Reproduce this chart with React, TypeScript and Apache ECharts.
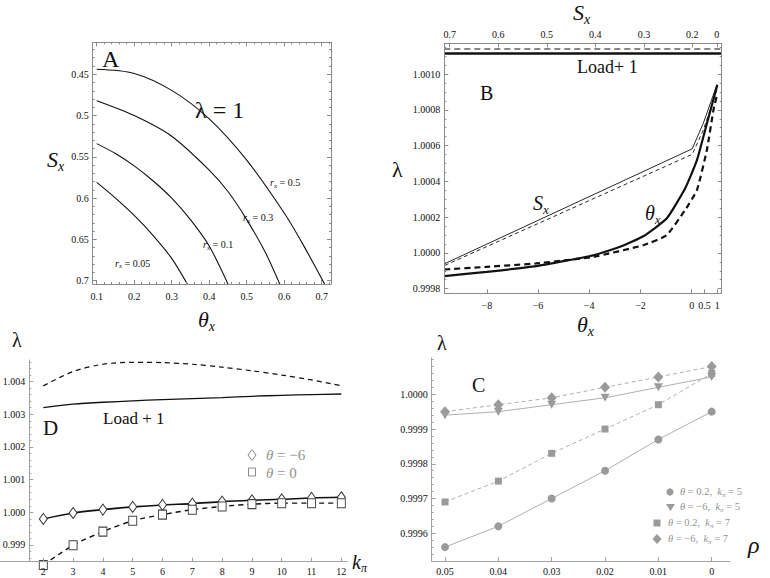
import React, { useEffect, useRef } from "react";
import * as echarts from "echarts";

const SERIF = "'Liberation Serif', 'Times New Roman', Times, serif";
const FRAME = "#8a8a8a";
const INK = "#111111";
const GREY = "#9a9a9a";
const GREY_TXT = "#939393";

// ---------------- Panel A : S_x vs theta_x, lambda = 1 ----------------
const aThetaTicks = [0.1, 0.2, 0.3, 0.4, 0.5, 0.6, 0.7];
const aSTicks = [0.45, 0.5, 0.55, 0.6, 0.65, 0.7];
const aRx05 = [[0.1, 0.444], [0.2, 0.449], [0.3, 0.4695], [0.4, 0.504], [0.5, 0.554], [0.6, 0.618], [0.65, 0.656], [0.71, 0.706]];
const aRx03 = [[0.1, 0.482], [0.2, 0.5], [0.3, 0.525], [0.4, 0.566], [0.45, 0.592], [0.5, 0.626], [0.55, 0.666], [0.59, 0.706]];
const aRx01 = [[0.1, 0.534], [0.15, 0.546], [0.2, 0.561], [0.25, 0.579], [0.3, 0.6], [0.35, 0.626], [0.4, 0.658], [0.452, 0.706]];
const aRx005 = [[0.1, 0.581], [0.15, 0.6], [0.2, 0.621], [0.25, 0.645], [0.3, 0.673], [0.344, 0.706]];

// ---------------- Panel B : lambda vs theta_x (bottom) and S_x (top) ----------------
const bThetaTicks = [-8, -6, -4, -2, 0, 0.5, 1];
const bSTicks = [0.7, 0.6, 0.5, 0.4, 0.3, 0.2, 0];
const bSTickPos = [-9.45, -7.55, -5.66, -3.77, -1.86, 0.02, 0.98]; // where each S_x tick sits on the theta scale
const bLambdaTicks = [0.9998, 1.0, 1.0002, 1.0004, 1.0006, 1.0008, 1.001];
const bThetaSolid = [[-9.66, 0.99987], [-8, 0.999894], [-6.08, 0.999926], [-3.84, 0.999987], [-2.8, 1.000034], [-1.89, 1.000093], [-0.98, 1.000192], [-0.26, 1.00036], [0.2, 1.000517], [0.59, 1.000722], [1, 1.00094]];
const bThetaDashed = [[-9.66, 0.999907], [-8, 0.999922], [-6.08, 0.999941], [-3.84, 0.999978], [-1.89, 1.000043], [-0.98, 1.000099], [-0.26, 1.000239], [0.2, 1.00035], [0.59, 1.000574], [0.85, 1.0008], [1, 1.00089]];
const bSSolid = [[0.71, 0.99994], [0.2, 1.000582], [0.11, 1.000725], [0, 1.000939]];
const bSDashed = [[0.71, 0.99993], [0.2, 1.000551], [0.11, 1.000687], [0, 1.00091]];
const bLoadSolid = [[-9.66, 1.001115], [1.17, 1.001115]];
const bLoadDashed = [[-9.66, 1.00114], [1.17, 1.00114]];

// ---------------- Panel D : lambda vs k_pi ----------------
const dK = [2, 3, 4, 5, 6, 7, 8, 9, 10, 11, 12];
const dLambdaTicks = [0.999, 1.0, 1.001, 1.002, 1.003, 1.004];
const dLoadDashed = [1.003868, 1.004306, 1.00453, 1.00459, 1.00458, 1.00453, 1.00444, 1.00433, 1.0042, 1.00405, 1.00387];
const dLoadSolid = [1.003206, 1.003307, 1.003367, 1.003408, 1.00345, 1.00348, 1.00351, 1.00355, 1.00358, 1.0036, 1.00362];
const dTheta6 = [0.999798, 0.99998, 1.000083, 1.000165, 1.000226, 1.000266, 1.000327, 1.000367, 1.000398, 1.00044, 1.00046];
const dTheta0 = [0.99839, 0.99899, 0.99941, 0.99974, 0.99993, 1.00008, 1.00018, 1.00025, 1.00028, 1.00028, 1.00028];

// ---------------- Panel C : lambda vs rho ----------------
const cRho = [0.05, 0.04, 0.03, 0.02, 0.01, 0];
const cLambdaTicks = [0.9996, 0.9997, 0.9998, 0.9999, 1.0];
const cTh02k5 = [0.99956, 0.99962, 0.9997, 0.99978, 0.99987, 0.99995];
const cTh6k5 = [0.99994, 0.99995, 0.99997, 0.99999, 1.00002, 1.00005];
const cTh02k7 = [0.99969, 0.99975, 0.99983, 0.9999, 0.99997, 1.00006];
const cTh6k7 = [0.99995, 0.99997, 0.99999, 1.00002, 1.00005, 1.00008];

function range(a: number, b: number, step: number): number[] {
  const out: number[] = [];
  const n = Math.round((b - a) / step);
  for (let i = 0; i <= n; i++) out.push(+(a + i * step).toFixed(10));
  return out;
}

function sToPos(s: number): number {
  for (let i = 0; i < bSTicks.length - 1; i++) {
    const s0 = bSTicks[i], s1 = bSTicks[i + 1];
    if ((s <= s0 && s >= s1) || (i === 0 && s > s0)) {
      const t = (s - s0) / (s1 - s0);
      return bSTickPos[i] + t * (bSTickPos[i + 1] - bSTickPos[i]);
    }
  }
  return bSTickPos[bSTickPos.length - 1];
}

const trim = (v: number) => String(+v.toFixed(4));

type AxOpt = {
  grid: number; pos: string; min: number; max: number; ticks: number[];
  labels?: number[]; fmt?: (v: number) => string; tickLen?: number; inverse?: boolean;
  margin?: number; offset?: number; line?: boolean; color?: string;
};
function axis(o: AxOpt): any {
  const c = o.color ?? FRAME;
  return {
    type: "value",
    gridIndex: o.grid,
    position: o.pos,
    min: o.min,
    max: o.max,
    inverse: !!o.inverse,
    offset: o.offset ?? 0,
    axisLine: { show: o.line !== false, onZero: false, lineStyle: { color: c, width: 1 } },
    axisTick: { show: true, inside: true, length: o.tickLen ?? 4, customValues: o.ticks, lineStyle: { color: c, width: 1 } },
    axisLabel: o.labels
      ? { show: true, customValues: o.labels, formatter: o.fmt, color: INK, fontFamily: SERIF, fontSize: 10, margin: o.margin ?? 5, hideOverlap: false }
      : { show: false },
    splitLine: { show: false },
    minorTick: { show: false },
    z: 5,
  };
}

type Part = { t: string; size: number; italic?: boolean; dy?: number };
let measureCtx: CanvasRenderingContext2D | null = null;
function textWidth(t: string, size: number, italic?: boolean): number {
  if (!measureCtx) measureCtx = document.createElement("canvas").getContext("2d");
  if (!measureCtx) return t.length * size * 0.5;
  measureCtx.font = `${italic ? "italic " : ""}${size}px ${SERIF}`;
  return measureCtx.measureText(t).width;
}
function mathText(x: number, baseline: number, parts: Part[], color = INK): any[] {
  const out: any[] = [];
  let cx = x;
  for (const p of parts) {
    out.push({
      type: "text",
      x: cx,
      y: baseline + (p.dy ?? 0) - 0.3375 * p.size,
      silent: true,
      z: 20,
      style: {
        text: p.t, fill: color, fontSize: p.size, fontFamily: SERIF,
        fontStyle: p.italic ? "italic" : "normal", align: "left", verticalAlign: "middle",
      },
    });
    cx += textWidth(p.t, p.size, p.italic);
  }
  return out;
}
// single text element with an italic symbol followed by upright text
function richText(x: number, baseline: number, sym: string, rest: string, size: number, color: string): any {
  return {
    type: "text",
    x,
    y: baseline - 0.3375 * size,
    silent: true,
    z: 20,
    style: {
      text: `{i|${sym}}{n|${rest}}`,
      fill: color,
      fontSize: size,
      fontFamily: SERIF,
      align: "left",
      verticalAlign: "middle",
      rich: {
        i: { fontStyle: "italic", fontSize: size, fontFamily: SERIF, fill: color, lineHeight: size },
        n: { fontStyle: "normal", fontSize: size, fontFamily: SERIF, fill: color, lineHeight: size },
      },
    },
  };
}
const NB = "\u00a0";

function buildOption(): any {
  const grids = [
    { left: 92.7, top: 42.3, width: 238.3, height: 241.7 }, // A
    { left: 444.3, top: 43.3, width: 277.4, height: 250 }, // B
    { left: 0, top: 360, width: 347.3, height: 201.7 }, // D
    { left: 431.7, top: 358, width: 298.3, height: 203 }, // C
  ].map((g) => ({ ...g, show: false, containLabel: false, outerBoundsMode: "none" }));

  const xAxes: any[] = [];
  const yAxes: any[] = [];
  const px = (a: any) => xAxes.push(a) - 1;
  const py = (a: any) => yAxes.push(a) - 1;

  // ----- A axes
  const aX = [0.0893, 0.7248];
  const aY = [0.4113, 0.704];
  const fmtA = (v: number) => trim(v);
  const xA = px(axis({ grid: 0, pos: "bottom", min: aX[0], max: aX[1], ticks: aThetaTicks, labels: aThetaTicks, fmt: fmtA, margin: 7 }));
  px(axis({ grid: 0, pos: "top", min: aX[0], max: aX[1], ticks: aThetaTicks }));
  px(axis({ grid: 0, pos: "bottom", min: aX[0], max: aX[1], ticks: range(0.1, 0.72, 0.02), tickLen: 2, line: false }));
  px(axis({ grid: 0, pos: "top", min: aX[0], max: aX[1], ticks: range(0.1, 0.72, 0.02), tickLen: 2, line: false }));
  const yA = py(axis({ grid: 0, pos: "left", min: aY[0], max: aY[1], inverse: true, ticks: aSTicks, labels: aSTicks, fmt: fmtA, margin: 4 }));
  py(axis({ grid: 0, pos: "right", min: aY[0], max: aY[1], inverse: true, ticks: aSTicks }));
  py(axis({ grid: 0, pos: "left", min: aY[0], max: aY[1], inverse: true, ticks: range(0.42, 0.7, 0.01), tickLen: 2, line: false }));
  py(axis({ grid: 0, pos: "right", min: aY[0], max: aY[1], inverse: true, ticks: range(0.42, 0.7, 0.01), tickLen: 2, line: false }));

  // ----- B axes
  const bX = [-9.66, 1.17];
  const bY = [0.999774, 1.001172];
  const xB = px(axis({ grid: 1, pos: "bottom", min: bX[0], max: bX[1], ticks: bThetaTicks, labels: bThetaTicks, margin: 7, fmt: (v) => (v < 0 ? "\u2212" + trim(-v) : trim(v)) }));
  const xBs = px(axis({
    grid: 1, pos: "top", min: bX[0], max: bX[1], ticks: bSTickPos, labels: bSTickPos, margin: 4,
    fmt: (v) => { const i = bSTickPos.findIndex((p) => Math.abs(p - v) < 1e-6); return i >= 0 ? trim(bSTicks[i]) : ""; },
  }));
  const yB = py(axis({ grid: 1, pos: "left", min: bY[0], max: bY[1], ticks: bLambdaTicks, labels: bLambdaTicks, fmt: (v) => v.toFixed(4), margin: 4 }));
  py(axis({ grid: 1, pos: "right", min: bY[0], max: bY[1], ticks: bLambdaTicks }));
  py(axis({ grid: 1, pos: "left", min: bY[0], max: bY[1], ticks: range(0.9998, 1.00115, 0.00005), tickLen: 2, line: false }));
  py(axis({ grid: 1, pos: "right", min: bY[0], max: bY[1], ticks: range(0.9998, 1.00115, 0.00005), tickLen: 2, line: false }));

  // ----- D axes
  const dX = [0.547, 12.2];
  const dY = [0.998489, 1.00466];
  const xD = px(axis({ grid: 2, pos: "bottom", min: dX[0], max: dX[1], ticks: dK, labels: dK, fmt: (v) => String(Math.round(v)), margin: 5, color: "#a0a0a0" }));
  const yD = py(axis({ grid: 2, pos: "left", offset: -29.3, min: dY[0], max: dY[1], ticks: dLambdaTicks, labels: dLambdaTicks, fmt: (v) => v.toFixed(3), margin: 4, color: "#a0a0a0" }));
  py(axis({ grid: 2, pos: "left", offset: -29.3, min: dY[0], max: dY[1], ticks: range(0.9986, 1.0046, 0.0002), tickLen: 2, line: false, color: "#a0a0a0" }));

  // ----- C axes
  const cX = [-0.00343, 0.0525];
  const cY = [0.99952, 1.0001045];
  const xC = px(axis({ grid: 3, pos: "bottom", min: cX[0], max: cX[1], inverse: true, ticks: cRho, labels: cRho, fmt: (v) => (Math.abs(v) < 1e-9 ? "0" : v.toFixed(2)), margin: 5, color: "#a0a0a0" }));
  const yC = py(axis({ grid: 3, pos: "left", min: cY[0], max: cY[1], ticks: cLambdaTicks, labels: cLambdaTicks, fmt: (v) => v.toFixed(4), margin: 4, color: "#a0a0a0" }));
  py(axis({ grid: 3, pos: "left", min: cY[0], max: cY[1], ticks: range(0.99952, 1.0001, 0.00002), tickLen: 2, line: false, color: "#a0a0a0" }));

  const line = (xi: number, yi: number, data: number[][], o: any = {}) => ({
    type: "line",
    xAxisIndex: xi,
    yAxisIndex: yi,
    data,
    symbol: o.symbol ?? "none",
    symbolSize: o.symbolSize ?? 8,
    symbolRotate: o.symbolRotate ?? 0,
    showSymbol: !!o.symbol,
    smooth: o.smooth ?? false,
    clip: o.clip ?? true,
    silent: true,
    z: o.z ?? 3,
    lineStyle: { color: o.color ?? INK, width: o.width ?? 1, type: o.dash ?? "solid" },
    itemStyle: o.itemStyle ?? { color: o.color ?? INK },
  });

  const zipK = (vals: number[]) => dK.map((k, i) => [k, vals[i]]);
  const zipR = (vals: number[]) => cRho.map((r, i) => [r, vals[i]]);
  const sPos = (arr: number[][]) => arr.map(([s, l]) => [sToPos(s), l]);

  const series = [
    // A
    line(xA, yA, aRx05, { smooth: 0.3, width: 1.1 }),
    line(xA, yA, aRx03, { smooth: 0.3, width: 1.1 }),
    line(xA, yA, aRx01, { smooth: 0.3, width: 1.1 }),
    line(xA, yA, aRx005, { smooth: 0.3, width: 1.1 }),
    // B
    line(xB, yB, bLoadSolid, { width: 2.4 }),
    line(xB, yB, bLoadDashed, { width: 1.1, dash: [6, 4] }),
    line(xB, yB, bThetaSolid, { smooth: 0.15, width: 2.2 }),
    line(xB, yB, bThetaDashed, { smooth: 0.15, width: 2.2, dash: [6, 4] }),
    line(xBs, yB, sPos(bSSolid), { width: 0.9 }),
    line(xBs, yB, sPos(bSDashed), { width: 0.9, dash: [4, 3] }),
    // D
    line(xD, yD, zipK(dLoadDashed), { smooth: 0.3, width: 1.2, dash: [5, 4] }),
    line(xD, yD, zipK(dLoadSolid), { smooth: 0.3, width: 1.3 }),
    line(xD, yD, zipK(dTheta6), {
      smooth: 0.3, width: 1.6, symbol: "diamond", symbolSize: [8, 11], z: 4,
      itemStyle: { color: "#ffffff", borderColor: "#333", borderWidth: 1 },
    }),
    line(xD, yD, zipK(dTheta0), {
      smooth: 0.3, width: 1.4, dash: [5, 4], symbol: "rect", symbolSize: [8, 9], z: 4, clip: false,
      itemStyle: { color: "#ffffff", borderColor: "#444", borderWidth: 1 },
    }),
    // C
    line(xC, yC, zipR(cTh02k5), { width: 0.8, color: GREY, symbol: "circle", symbolSize: 8, itemStyle: { color: GREY } }),
    line(xC, yC, zipR(cTh6k5), { width: 0.8, color: GREY, symbol: "triangle", symbolSize: [9, 8], symbolRotate: 180, itemStyle: { color: GREY } }),
    line(xC, yC, zipR(cTh02k7), { width: 0.8, color: GREY, dash: [4, 3], symbol: "rect", symbolSize: 7, itemStyle: { color: GREY } }),
    line(xC, yC, zipR(cTh6k7), { width: 0.8, color: GREY, dash: [4, 3], symbol: "diamond", symbolSize: [10, 11], itemStyle: { color: GREY } }),
  ];

  const it = true;
  const g: any[] = [
    // ---- A
    ...mathText(102, 67.3, [{ t: "A", size: 24 }]),
    ...mathText(195, 118.3, [{ t: "\u03bb = 1", size: 24 }]),
    ...mathText(270, 186.3, [{ t: "r", size: 10, italic: it }, { t: "x", size: 7, italic: it, dy: 2 }, { t: NB + "= 0.5", size: 10 }]),
    ...mathText(243, 221.3, [{ t: "r", size: 10, italic: it }, { t: "x", size: 7, italic: it, dy: 2 }, { t: NB + "= 0.3", size: 10 }]),
    ...mathText(203, 248.3, [{ t: "r", size: 10, italic: it }, { t: "x", size: 7, italic: it, dy: 2 }, { t: NB + "= 0.1", size: 10 }]),
    ...mathText(115, 266.8, [{ t: "r", size: 10, italic: it }, { t: "x", size: 7, italic: it, dy: 2 }, { t: NB + "= 0.05", size: 10 }]),
    ...mathText(47, 167, [{ t: "S", size: 22, italic: it }, { t: "x", size: 14, italic: it, dy: 4 }]),
    ...mathText(198, 327, [{ t: "\u03b8", size: 22, italic: it }, { t: "x", size: 14, italic: it, dy: 4 }]),
    // ---- B
    ...mathText(573, 20, [{ t: "S", size: 22, italic: it }, { t: "x", size: 14, italic: it, dy: 4 }]),
    ...mathText(392, 177, [{ t: "\u03bb", size: 22 }]),
    ...mathText(577, 73, [{ t: "Load+ 1", size: 18 }]),
    ...mathText(480, 99.6, [{ t: "B", size: 20 }]),
    ...mathText(533, 209.6, [{ t: "S", size: 20, italic: it }, { t: "x", size: 13, italic: it, dy: 4 }]),
    ...mathText(645, 219.6, [{ t: "\u03b8", size: 20, italic: it }, { t: "x", size: 13, italic: it, dy: 4 }]),
    ...mathText(577, 332, [{ t: "\u03b8", size: 22, italic: it }, { t: "x", size: 14, italic: it, dy: 4 }]),
    // ---- D
    ...mathText(12, 347, [{ t: "\u03bb", size: 20 }]),
    ...mathText(43, 435, [{ t: "D", size: 21 }]),
    ...mathText(103, 424.6, [{ t: "Load + 1", size: 17 }]),
    richText(266, 460, "\u03b8", NB + "=" + NB + "\u22126", 15, GREY_TXT),
    richText(266, 478, "\u03b8", NB + "=" + NB + "0", 15, GREY_TXT),
    ...mathText(352, 569, [{ t: "k", size: 20, italic: it }, { t: "\u03c0", size: 12, italic: it, dy: 3 }]),
    { type: "polygon", silent: true, z: 20, shape: { points: [[252, 449.5], [256, 455], [252, 460.5], [248, 455]] }, style: { fill: "none", stroke: "#8a8a8a", lineWidth: 1 } },
    { type: "rect", silent: true, z: 20, shape: { x: 248.5, y: 468, width: 7, height: 8 }, style: { fill: "none", stroke: "#8a8a8a", lineWidth: 1 } },
    // ---- C
    ...mathText(437, 350, [{ t: "\u03bb", size: 20 }]),
    ...mathText(472, 391.6, [{ t: "C", size: 20 }]),
    ...mathText(748, 553, [{ t: "\u03c1", size: 24, italic: it }]),
    ...mathText(680, 495.5, [{ t: "\u03b8", size: 10.5, italic: it }, { t: NB + "= 0.2," + NB + NB, size: 10.5 }, { t: "k", size: 10.5, italic: it }, { t: "\u03c0", size: 7, italic: it, dy: 2 }, { t: NB + "= 5", size: 10.5 }], GREY_TXT),
    ...mathText(680, 510.5, [{ t: "\u03b8", size: 10.5, italic: it }, { t: NB + "= \u22126," + NB + NB, size: 10.5 }, { t: "k", size: 10.5, italic: it }, { t: "\u03c0", size: 7, italic: it, dy: 2 }, { t: NB + "= 5", size: 10.5 }], GREY_TXT),
    ...mathText(668, 526.5, [{ t: "\u03b8", size: 10.5, italic: it }, { t: NB + "= 0.2," + NB + NB, size: 10.5 }, { t: "k", size: 10.5, italic: it }, { t: "\u03c0", size: 7, italic: it, dy: 2 }, { t: NB + "= 7", size: 10.5 }], GREY_TXT),
    ...mathText(668, 542.5, [{ t: "\u03b8", size: 10.5, italic: it }, { t: NB + "= \u22126," + NB + NB, size: 10.5 }, { t: "k", size: 10.5, italic: it }, { t: "\u03c0", size: 7, italic: it, dy: 2 }, { t: NB + "= 7", size: 10.5 }], GREY_TXT),
    { type: "circle", silent: true, z: 20, shape: { cx: 670, cy: 492, r: 3.6 }, style: { fill: GREY } },
    { type: "polygon", silent: true, z: 20, shape: { points: [[666, 504], [675, 504], [670.5, 511]] }, style: { fill: GREY } },
    { type: "rect", silent: true, z: 20, shape: { x: 653.5, y: 519.5, width: 7, height: 7 }, style: { fill: GREY } },
    { type: "polygon", silent: true, z: 20, shape: { points: [[657, 534], [661.5, 539], [657, 544], [652.5, 539]] }, style: { fill: GREY } },
  ];

  return {
    animation: false,
    backgroundColor: "#ffffff",
    textStyle: { fontFamily: SERIF },
    grid: grids,
    xAxis: xAxes,
    yAxis: yAxes,
    series,
    graphic: { elements: g },
  };
}

export default function App() {
  const ref = useRef<HTMLDivElement>(null);
  useEffect(() => {
    if (!ref.current) return;
    const chart = echarts.init(ref.current, null, { renderer: "svg", width: 770, height: 578 });
    chart.setOption(buildOption());
    return () => chart.dispose();
  }, []);
  return (
    <div
      ref={ref}
      style={{ position: "absolute", left: 0, top: 0, width: 770, height: 578, background: "#ffffff" }}
    />
  );
}
